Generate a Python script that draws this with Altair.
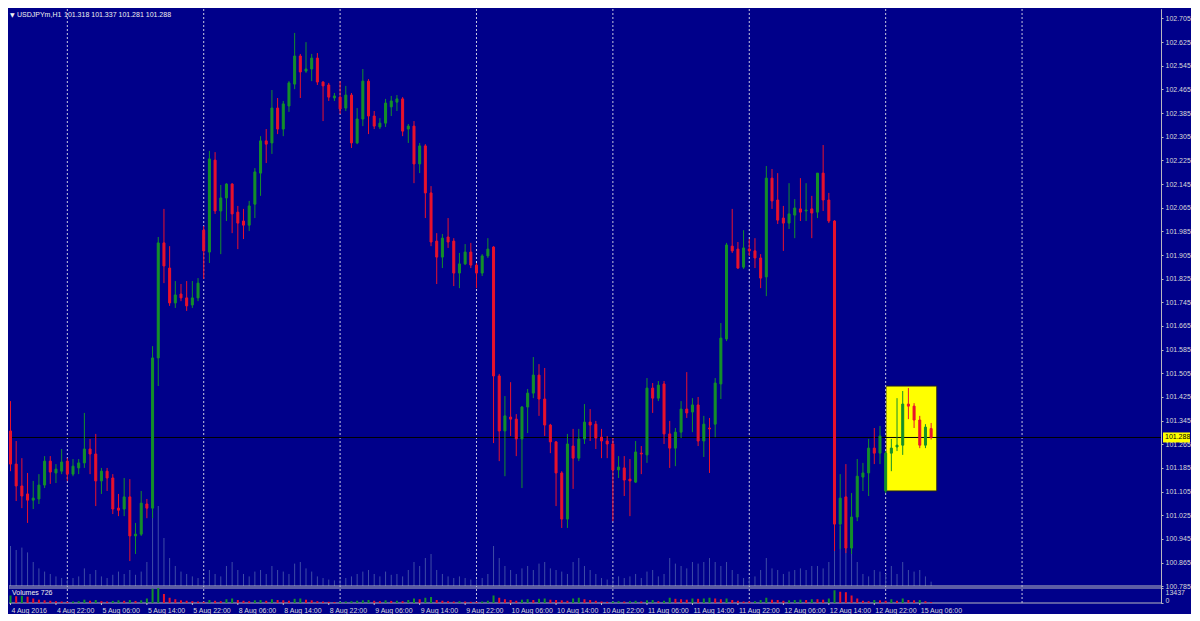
import altair as alt
import pandas as pd

# ---------------- data ----------------
opens = [101.310, 101.198, 101.124, 101.097, 101.076, 101.080, 101.127, 101.208, 101.168, 101.174,
         101.208, 101.164, 101.185, 101.202, 101.249, 101.232, 101.141, 101.174, 101.151, 101.049,
         101.046, 101.087, 100.955, 100.961, 101.063, 101.049, 101.557, 101.946, 101.861, 101.743,
         101.773, 101.760, 101.736, 101.760, 101.989, 101.915, 102.226, 102.054, 102.098, 102.145,
         102.050, 102.020, 102.006, 102.077, 102.182, 102.291, 102.284, 102.402, 102.331, 102.409,
         102.483, 102.578, 102.527, 102.534, 102.571, 102.490, 102.480, 102.436, 102.439, 102.402,
         102.446, 102.284, 102.365, 102.493, 102.375, 102.338, 102.351, 102.406, 102.422, 102.433,
         102.331, 102.341, 102.213, 102.274, 102.115, 101.952, 101.898, 101.966, 101.952, 101.844,
         101.875, 101.915, 101.871, 101.844, 101.902, 101.932, 101.496, 101.310, 101.357, 101.350,
         101.283, 101.391, 101.438, 101.499, 101.418, 101.330, 101.273, 101.168, 101.012, 101.259,
         101.218, 101.283, 101.340, 101.333, 101.289, 101.276, 101.266, 101.178, 101.185, 101.147,
         101.137, 101.235, 101.229, 101.455, 101.421, 101.469, 101.300, 101.252, 101.306, 101.384,
         101.374, 101.398, 101.276, 101.320, 101.333, 101.469, 101.621, 101.935, 101.925, 101.864,
         101.925, 101.919, 101.895, 101.831, 102.165, 102.091, 102.030, 102.013, 102.040, 102.061,
         102.054, 102.061, 102.050, 102.182, 102.091, 102.020, 100.995, 101.087, 100.914, 101.019,
         101.154, 101.168, 101.252, 101.235, 101.107, 101.235, 101.256, 101.262, 101.401, 101.394,
         101.347, 101.262, 101.318]
highs = [101.411, 101.276, 101.218, 101.168, 101.141, 101.164, 101.225, 101.225, 101.198, 101.249,
         101.218, 101.215, 101.215, 101.371, 101.283, 101.300, 101.185, 101.185, 101.164, 101.097,
         101.151, 101.147, 100.999, 101.107, 101.080, 101.597, 101.966, 102.061, 101.935, 101.817,
         101.807, 101.817, 101.817, 101.827, 102.003, 102.257, 102.253, 102.142, 102.148, 102.148,
         102.071, 102.061, 102.088, 102.199, 102.307, 102.331, 102.463, 102.436, 102.426, 102.493,
         102.656, 102.585, 102.625, 102.585, 102.588, 102.493, 102.487, 102.453, 102.493, 102.477,
         102.453, 102.402, 102.534, 102.500, 102.392, 102.368, 102.433, 102.443, 102.446, 102.439,
         102.348, 102.358, 102.284, 102.280, 102.138, 101.979, 101.976, 102.030, 101.962, 101.912,
         101.942, 101.946, 101.878, 101.908, 101.962, 101.935, 101.503, 101.428, 101.475, 101.367,
         101.394, 101.452, 101.560, 101.536, 101.523, 101.334, 101.276, 101.174, 101.300, 101.317,
         101.317, 101.401, 101.384, 101.344, 101.317, 101.293, 101.286, 101.225, 101.225, 101.215,
         101.276, 101.259, 101.489, 101.472, 101.479, 101.479, 101.344, 101.320, 101.411, 101.509,
         101.421, 101.425, 101.361, 101.354, 101.489, 101.675, 101.946, 102.061, 101.949, 101.989,
         101.959, 101.962, 101.908, 102.206, 102.196, 102.182, 102.071, 102.148, 102.094, 102.165,
         102.148, 102.105, 102.182, 102.277, 102.115, 102.023, 101.164, 101.198, 101.100, 101.215,
         101.202, 101.283, 101.320, 101.327, 101.242, 101.283, 101.421, 101.445, 101.455, 101.404,
         101.361, 101.333, 101.337]
lows = [101.174, 101.073, 101.049, 100.999, 101.046, 101.063, 101.117, 101.131, 101.134, 101.164,
        101.141, 101.157, 101.164, 101.185, 101.164, 101.056, 101.097, 101.107, 101.029, 101.022,
        101.022, 100.870, 100.894, 100.955, 101.015, 101.015, 101.462, 101.810, 101.733, 101.726,
        101.749, 101.716, 101.726, 101.749, 101.824, 101.878, 102.044, 101.908, 102.020, 101.979,
        101.925, 101.959, 101.986, 102.030, 102.105, 102.216, 102.247, 102.314, 102.307, 102.389,
        102.466, 102.436, 102.521, 102.493, 102.480, 102.358, 102.426, 102.426, 102.382, 102.392,
        102.267, 102.280, 102.341, 102.314, 102.331, 102.331, 102.338, 102.375, 102.392, 102.307,
        102.284, 102.148, 102.182, 102.030, 101.935, 101.807, 101.861, 101.929, 101.800, 101.793,
        101.871, 101.861, 101.793, 101.834, 101.895, 101.269, 101.208, 101.157, 101.293, 101.225,
        101.117, 101.303, 101.421, 101.361, 101.293, 101.235, 101.056, 100.982, 100.982, 101.114,
        101.208, 101.266, 101.276, 101.249, 101.218, 101.218, 101.005, 101.151, 101.090, 101.022,
        101.134, 101.164, 101.202, 101.371, 101.411, 101.266, 101.185, 101.191, 101.286, 101.354,
        101.306, 101.259, 101.222, 101.168, 101.289, 101.418, 101.614, 101.912, 101.858, 101.858,
        101.902, 101.861, 101.793, 101.766, 102.061, 102.010, 101.919, 101.993, 101.962, 102.020,
        102.020, 101.962, 102.030, 102.054, 102.013, 100.904, 100.911, 100.897, 100.894, 101.005,
        101.107, 101.090, 101.198, 101.198, 101.100, 101.174, 101.242, 101.229, 101.350, 101.320,
        101.252, 101.252, 101.281]
closes = [101.198, 101.124, 101.090, 101.076, 101.083, 101.127, 101.208, 101.171, 101.181, 101.205,
          101.164, 101.191, 101.202, 101.249, 101.232, 101.141, 101.174, 101.151, 101.046, 101.042,
          101.087, 100.955, 100.961, 101.066, 101.049, 101.557, 101.946, 101.868, 101.743, 101.770,
          101.760, 101.733, 101.760, 101.810, 101.919, 102.230, 102.054, 102.098, 102.145, 102.044,
          102.013, 102.006, 102.071, 102.186, 102.291, 102.280, 102.402, 102.331, 102.416, 102.487,
          102.578, 102.524, 102.534, 102.571, 102.490, 102.477, 102.439, 102.443, 102.399, 102.446,
          102.284, 102.365, 102.493, 102.375, 102.341, 102.351, 102.419, 102.426, 102.433, 102.324,
          102.341, 102.213, 102.274, 102.115, 101.949, 101.898, 101.962, 101.949, 101.844, 101.875,
          101.915, 101.871, 101.844, 101.902, 101.925, 101.496, 101.310, 101.361, 101.350, 101.283,
          101.391, 101.438, 101.499, 101.418, 101.330, 101.273, 101.168, 101.012, 101.266, 101.218,
          101.283, 101.340, 101.330, 101.286, 101.276, 101.266, 101.178, 101.188, 101.144, 101.141,
          101.239, 101.232, 101.455, 101.421, 101.465, 101.300, 101.252, 101.306, 101.384, 101.371,
          101.398, 101.276, 101.333, 101.317, 101.472, 101.624, 101.939, 101.919, 101.861, 101.929,
          101.919, 101.895, 101.827, 102.165, 102.088, 102.023, 102.013, 102.044, 102.064, 102.050,
          102.057, 102.047, 102.182, 102.091, 102.020, 100.995, 101.083, 100.914, 101.019, 101.157,
          101.168, 101.252, 101.235, 101.293, 101.235, 101.252, 101.262, 101.401, 101.394, 101.347,
          101.262, 101.323, 101.288]
volumes = [6720, 6050, 6450, 5640, 4030, 2960, 2420, 2020, 1610, 1340,
           1080, 1340, 1610, 2960, 2020, 2690, 1610, 1340, 1880, 2420, 2020, 2690, 1880, 2420, 4030,
           12760, 13437,
           8060, 4700, 3360, 2420, 2020, 1610, 1340,
           1080, 2690, 2020, 1610, 3360, 4030, 2690, 2020, 1610, 2420, 2690, 2020, 3360, 2690, 2420,
           2020, 3760, 4030, 2960, 2420, 1610, 1340, 1080, 940,
           1080, 1340, 1610, 2020, 2420, 2690, 2020, 1610, 2420, 1880, 2020, 1610, 2690, 4030, 3360,
           4700, 5370, 2690, 2020, 1610, 1340, 1610, 1340, 1080,
           1080, 1340, 2020, 6720, 4700, 3360, 2690, 2020, 2960, 3360, 2690, 3760, 4030, 2960, 2690,
           2420, 2020, 4030, 4700, 3360, 2690, 2020, 1340, 1080,
           1340, 1610, 1340, 1610, 2020, 1340, 2420, 2690, 1610, 2020, 4700, 3760, 3360, 2960, 4030,
           3760, 4030, 4700, 4030, 3360, 4030, 2690, 2020, 1340,
           1340, 1610, 2690, 4700, 2960, 2690, 2020, 2420, 2690, 2960, 2690, 3360, 3360, 2960, 4030,
           11420, 10080, 9670, 6720, 4030, 2020, 1610, 2690, 2420,
           2020, 3360, 2020, 4030, 2690, 2420, 2690, 1610, 726]

time_labels = ["4 Aug 2016", "4 Aug 22:00", "5 Aug 06:00", "5 Aug 14:00", "5 Aug 22:00",
               "8 Aug 06:00", "8 Aug 14:00", "8 Aug 22:00", "9 Aug 06:00", "9 Aug 14:00",
               "9 Aug 22:00", "10 Aug 06:00", "10 Aug 14:00", "10 Aug 22:00", "11 Aug 06:00",
               "11 Aug 14:00", "11 Aug 22:00", "12 Aug 06:00", "12 Aug 14:00", "12 Aug 22:00",
               "15 Aug 06:00"]
label_bars = [0, 8, 16, 24, 32, 40, 48, 56, 64, 72, 80, 88, 96, 104, 112, 120, 128, 136, 144, 152, 160]
day_start_bars = [10, 34, 58, 82, 106, 130, 154, 178]
price_ticks = [102.705, 102.625, 102.545, 102.465, 102.385, 102.305, 102.225, 102.145, 102.065,
               101.985, 101.905, 101.825, 101.745, 101.665, 101.585, 101.505, 101.425, 101.345,
               101.265, 101.185, 101.105, 101.025, 100.945, 100.865, 100.785]
volume_max = 13437
volume_ticks = [0, 13437]
bid_price = 101.288
symbol_text = "USDJPYm,H1"
ohlc_text = "101.318 101.337 101.281 101.288"
volume_title = "Volumes 726"
highlight_bars = [154.05, 163.0]
highlight_prices = [101.107, 101.462]

assert len(opens) == len(highs) == len(lows) == len(closes) == len(volumes) == 163

# ---------------- styling / layout ----------------
BG = "#00008a"
GREEN = "#14902a"
RED = "#e8122c"
FG = "#d8d8d8"
FRAME = "#b8b8c0"
SEP = "#c8c8e0"
GHOST = "#3e4ca6"
FONT = "Liberation Sans"

W = 1152            # plot width (px)
H_MAIN = 577        # price window height
GAP = 2             # gap between windows
H_VOL = 15          # volume window height
H = H_MAIN + GAP + H_VOL
PX_PER_YEN = 295.7  # vertical price scale of the reference
TOP_PRICE = 102.737
GHOST_PX = 80       # height of the faint in-chart volume histogram at volume_max

price_domain = [TOP_PRICE - H / PX_PER_YEN, TOP_PRICE]
vol_domain = [0, volume_max * H / H_VOL]
ghost_unit = volume_max / GHOST_PX
ghost_domain = [-ghost_unit * (H - H_MAIN), ghost_unit * H_MAIN]

df = pd.DataFrame({"i": list(range(len(opens))), "open": opens, "high": highs,
                   "low": lows, "close": closes, "vol": volumes})
df["dir"] = ["up" if c >= o else "down" for o, c in zip(opens, closes)]
df["vdir"] = ["up"] + ["up" if volumes[k] > volumes[k - 1] else "down" for k in range(1, len(volumes))]

xs = alt.Scale(domain=[-0.264, 202.45], nice=False, zero=False, padding=0)
ys = alt.Scale(domain=price_domain, nice=False, zero=False, padding=0)
vs = alt.Scale(domain=vol_domain, nice=False, zero=False, padding=0)
gs = alt.Scale(domain=ghost_domain, nice=False, zero=False, padding=0)
dir_scale = alt.Scale(domain=["up", "down"], range=[GREEN, RED])

base = alt.Chart(df)
sep_df = pd.DataFrame({"d": day_start_bars})
lab_df = pd.DataFrame({"b": label_bars, "t": time_labels})
one = pd.DataFrame({"k": [0]})

price_axis = alt.Axis(orient="right", values=price_ticks, format=".3f", labelFont=FONT, labelFontSize=7,
                      labelColor=FG, tickColor=FRAME, tickSize=2, labelPadding=2, domainColor=FRAME,
                      title=None, grid=False, labelOverlap=False, labelFlush=False)
vol_axis = alt.Axis(orient="right", values=volume_ticks, format="d", labelFont=FONT, labelFontSize=7,
                    labelColor=FG, tickColor=FRAME, tickSize=2, labelPadding=2, domainColor=FRAME,
                    title=None, grid=False, labelOverlap=False, labelFlush=False,
                    labelBaseline={"condition": {"test": "datum.value == 0", "value": "bottom"},
                                   "value": "top"})

hl = alt.Chart(pd.DataFrame({"x0": [highlight_bars[0]], "x1": [highlight_bars[1]],
                             "p0": [highlight_prices[0]], "p1": [highlight_prices[1]]})).mark_rect(
    fill="#ffff00", stroke="#202020", strokeWidth=1).encode(
    x=alt.X("x0:Q", scale=xs, axis=None), x2="x1:Q",
    y=alt.Y("p0:Q", scale=ys, axis=None), y2="p1:Q")

sep = alt.Chart(sep_df).mark_rule(color=SEP, strokeDash=[2, 2], strokeWidth=1).encode(
    x=alt.X("d:Q", scale=xs, axis=None))

ghost = base.mark_rule(color=GHOST, strokeWidth=1).encode(
    x=alt.X("i:Q", scale=xs, axis=None),
    y=alt.Y("vol:Q", scale=gs, axis=None, stack=None),
    y2=alt.datum(0))

bidline = alt.Chart(pd.DataFrame({"p": [bid_price]})).mark_rule(color="#000000", strokeWidth=1).encode(
    y=alt.Y("p:Q", scale=ys, axis=None))

# window frames
main_bottom = alt.Chart(one).mark_rule(color=FRAME, strokeWidth=1).encode(y=alt.value(H_MAIN))
vol_top = alt.Chart(one).mark_rule(color=FRAME, strokeWidth=1).encode(y=alt.value(H_MAIN + GAP))
vol_bottom = alt.Chart(one).mark_rule(color=FRAME, strokeWidth=1).encode(y=alt.value(H))

wicks = base.mark_rule(strokeWidth=1).encode(
    x=alt.X("i:Q", scale=xs, axis=None),
    y=alt.Y("low:Q", scale=ys, axis=price_axis),
    y2="high:Q",
    color=alt.Color("dir:N", scale=dir_scale, legend=None))

bodies = base.mark_bar(size=2, strokeWidth=1).encode(
    x=alt.X("i:Q", scale=xs, axis=None),
    y=alt.Y("open:Q", scale=ys, axis=None, stack=None),
    y2="close:Q",
    color=alt.Color("dir:N", scale=dir_scale, legend=None),
    stroke=alt.Stroke("dir:N", scale=dir_scale, legend=None))

vbars = base.mark_bar(size=2).encode(
    x=alt.X("i:Q", scale=xs, axis=None),
    y=alt.Y("vol:Q", scale=vs, axis=vol_axis, stack=None),
    y2=alt.datum(0),
    color=alt.Color("vdir:N", scale=dir_scale, legend=None))

# time axis (ticks + labels below the volume window)
xticks = alt.Chart(lab_df).mark_rule(color=FRAME, strokeWidth=1, clip=False).encode(
    x=alt.X("b:Q", scale=xs, axis=None), y=alt.value(H), y2=alt.value(H + 2))
xlabels = alt.Chart(lab_df).mark_text(align="left", baseline="top", font=FONT, fontSize=7, color=FG,
                                      clip=False, dx=1).encode(
    x=alt.X("b:Q", scale=xs, axis=None), y=alt.value(H + 4), text="t:N")

bid_df = pd.DataFrame({"p": [bid_price]})
tag = alt.Chart(bid_df).mark_tick(color="#ffff00", thickness=10, size=27, orient="horizontal",
                                  opacity=1, clip=False).encode(
    x=alt.value(W + 15.5), y=alt.Y("p:Q", scale=ys, axis=None))
tag_text = alt.Chart(bid_df).mark_text(align="left", baseline="middle", font=FONT, fontSize=7,
                                       color="#000000", clip=False).encode(
    x=alt.value(W + 4), y=alt.Y("p:Q", scale=ys, axis=None), text=alt.Text("p:Q", format=".3f"))

title_df = pd.DataFrame({"sym": [symbol_text], "ohlc": [ohlc_text], "tri": ["\u25bc"],
                         "vt": [volume_title]})
tri = alt.Chart(title_df).mark_text(align="left", baseline="middle", font="DejaVu Sans", fontSize=6,
                                    color="#f0f0f0").encode(x=alt.value(1), y=alt.value(6), text="tri:N")
sym = alt.Chart(title_df).mark_text(align="left", baseline="middle", font=FONT, fontSize=7,
                                    color="#f0f0f0").encode(x=alt.value(8), y=alt.value(6), text="sym:N")
ohlc = alt.Chart(title_df).mark_text(align="left", baseline="middle", font=FONT, fontSize=7,
                                     color="#f0f0f0").encode(x=alt.value(55), y=alt.value(6), text="ohlc:N")
vtext = alt.Chart(title_df).mark_text(align="left", baseline="middle", font=FONT, fontSize=7,
                                      color="#f0f0f0").encode(
    x=alt.value(3), y=alt.value(H_MAIN + GAP + 5), text="vt:N")

chart = alt.layer(
    hl, sep, ghost, bidline, main_bottom, vol_top, vol_bottom, wicks, bodies, vbars,
    xticks, xlabels, tag, tag_text, tri, sym, ohlc, vtext
).resolve_scale(y="independent").properties(
    width=W, height=H, background=BG, padding=0
).configure_view(stroke=None)

chart.save("out.html", embed_options={"renderer": "svg", "actions": False})
